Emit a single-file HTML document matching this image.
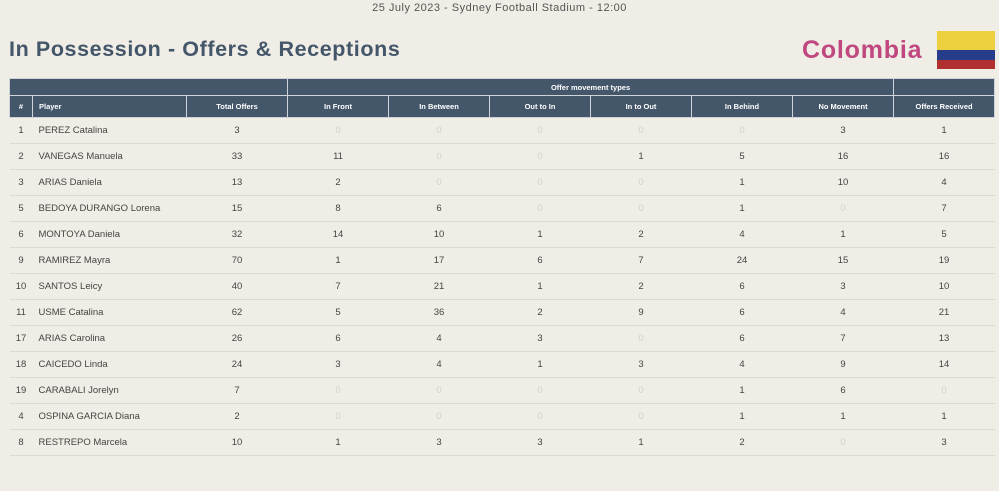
<!DOCTYPE html><html><head><style>
body{margin:0;width:999px;height:491px;background:#efede5;font-family:"Liberation Sans",sans-serif;position:relative;overflow:hidden}
.sub{position:absolute;top:2px;left:0;width:999px;text-align:center;font-size:11px;color:#555;letter-spacing:.5px}
.t{position:absolute;left:9px;top:37px;font-size:21.5px;font-weight:bold;color:#44566a;letter-spacing:.6px}
.c{position:absolute;left:802px;top:36px;font-size:25px;font-weight:bold;color:#c0477f;letter-spacing:.8px}
.f{position:absolute;left:937px;top:31px;width:58px;height:38px}
table{position:absolute;left:9px;top:78px;border-collapse:collapse;table-layout:fixed;width:985px;font-size:9.5px}
th{background:#44566a;color:#fff;font-size:7.5px;border:1px solid #cfd4d8;padding:0}
tr.h1 th{height:16px}tr.h2 th{height:21px}
td{height:25px;border-bottom:1px solid #dcdcd4;text-align:center;color:#444;padding:0}
td.p,th.p{text-align:left;padding-left:6px}
.z{color:#d2d2cc}
</style></head><body>
<div class="sub">25 July 2023 - Sydney Football Stadium - 12:00</div>
<div class="t">In Possession - Offers &amp; Receptions</div>
<div class="c">Colombia</div>
<div class="f"><div style="height:19px;background:#ecd03e"></div><div style="height:10px;background:#263d8c"></div><div style="height:9px;background:#b0302f"></div></div>
<table>
<colgroup><col style="width:23px"><col style="width:154px"><col style="width:101px"><col style="width:101px"><col style="width:101px"><col style="width:101px"><col style="width:101px"><col style="width:101px"><col style="width:101px"><col style="width:101px"></colgroup>
<tr class="h1"><th colspan="3"></th><th colspan="6">Offer movement types</th><th></th></tr>
<tr class="h2"><th>#</th><th class="p">Player</th><th>Total Offers</th><th>In Front</th><th>In Between</th><th>Out to In</th><th>In to Out</th><th>In Behind</th><th>No Movement</th><th>Offers Received</th></tr>
<tbody id="b"></tbody>
</table>
<script>
var d=[[1,"PEREZ Catalina",3,0,0,0,0,0,3,1],[2,"VANEGAS Manuela",33,11,0,0,1,5,16,16],[3,"ARIAS Daniela",13,2,0,0,0,1,10,4],[5,"BEDOYA DURANGO Lorena",15,8,6,0,0,1,0,7],[6,"MONTOYA Daniela",32,14,10,1,2,4,1,5],[9,"RAMIREZ Mayra",70,1,17,6,7,24,15,19],[10,"SANTOS Leicy",40,7,21,1,2,6,3,10],[11,"USME Catalina",62,5,36,2,9,6,4,21],[17,"ARIAS Carolina",26,6,4,3,0,6,7,13],[18,"CAICEDO Linda",24,3,4,1,3,4,9,14],[19,"CARABALI Jorelyn",7,0,0,0,0,1,6,0],[4,"OSPINA GARCIA Diana",2,0,0,0,0,1,1,1],[8,"RESTREPO Marcela",10,1,3,3,1,2,0,3]];
var h="";d.forEach(function(r){h+="<tr><td>"+r[0]+"</td><td class='p'>"+r[1]+"</td>";for(var i=2;i<10;i++)h+="<td"+(r[i]===0?" class='z'":"")+">"+r[i]+"</td>";h+="</tr>"});document.getElementById("b").innerHTML=h;
</script>
</body></html>
